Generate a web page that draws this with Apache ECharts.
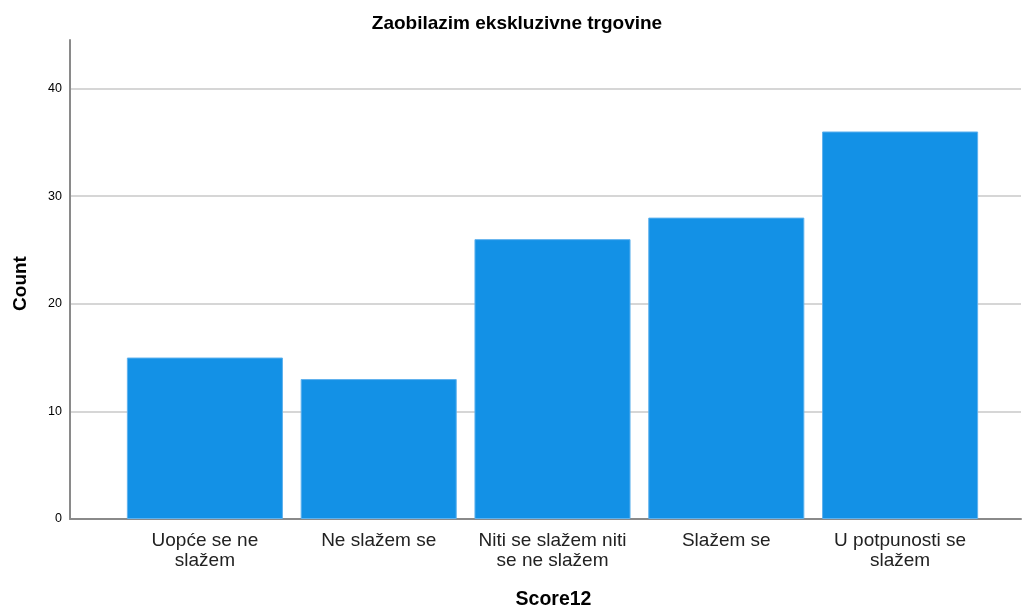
<!DOCTYPE html>
<html>
<head>
<meta charset="utf-8">
<script src="https://cdn.jsdelivr.net/npm/echarts@6/dist/echarts.min.js"></script>
<style>
  html, body { margin: 0; padding: 0; background: #fff; }
  #chart { width: 1023px; height: 607px; }
</style>
</head>
<body>
<div id="chart"></div>
<script>
// 类别和计数
const categories = [
    "Uopće se ne\nslažem",
    "Ne slažem se",
    "Niti se slažem niti\nse ne slažem",
    "Slažem se",
    "U potpunosti se\nslažem"
];
const counts = [15, 13, 26, 28, 36];
const yMax = 44.5;

const chart = echarts.init(document.getElementById("chart"));

const font = "'Liberation Sans', Arial, sans-serif";

chart.setOption({
    animation: false,
    title: {
        text: "Zaobilazim ekskluzivne trgovine",
        left: 517,
        textAlign: "center",
        top: 14,
        padding: 0,
        textStyle: { fontFamily: font, fontSize: 19, fontWeight: "bold", color: "#000" }
    },
    // 0号网格画坐标轴和网格线, 1号网格画柱子
    grid: [
        { left: 70, right: 2, top: 40, bottom: 88, outerBoundsMode: "none" },
        { left: 118, right: 36, top: 40, bottom: 88, outerBoundsMode: "none" }
    ],
    xAxis: [{
        type: "value",
        gridIndex: 0,
        min: 0,
        max: 1,
        name: "Score12",
        nameLocation: "middle",
        nameGap: 71,
        nameTextStyle: { fontFamily: font, fontSize: 19.5, fontWeight: "bold", color: "#000", padding: [0, 0, 0, 16] },
        axisLine: { show: true, lineStyle: { color: "#8a8a8a", width: 2 } },
        axisTick: { show: false },
        axisLabel: { show: false },
        splitLine: { show: false }
    }, {
        type: "category",
        gridIndex: 1,
        data: categories,
        axisLine: { show: false },
        axisTick: { show: false },
        axisLabel: { fontFamily: font, fontSize: 19, color: "#222", margin: 12, lineHeight: 20, interval: 0 }
    }],
    yAxis: [{
        type: "value",
        gridIndex: 0,
        min: 0,
        max: yMax,
        interval: 10,
        name: "Count",
        nameLocation: "middle",
        nameGap: 40,
        nameTextStyle: { fontFamily: font, fontSize: 19, fontWeight: "bold", color: "#000", padding: [0, 8, 0, 0] },
        axisLine: { show: true, lineStyle: { color: "#8a8a8a", width: 2 } },
        axisTick: { show: false },
        axisLabel: { fontFamily: font, fontSize: 12.5, color: "#000", margin: 8, showMaxLabel: false },
        splitLine: { show: true, showMinLine: false, showMaxLine: false, lineStyle: { color: "#c8c8c8", width: 1.5 } }
    }, {
        type: "value",
        gridIndex: 1,
        min: 0,
        max: yMax,
        show: false
    }],
    series: [{
        type: "bar",
        xAxisIndex: 1,
        yAxisIndex: 1,
        data: counts,
        barCategoryGap: "10.2%",
        itemStyle: { color: "#1391e6", borderColor: "#5fb2ee", borderWidth: 1 }
    }]
});
</script>
</body>
</html>
